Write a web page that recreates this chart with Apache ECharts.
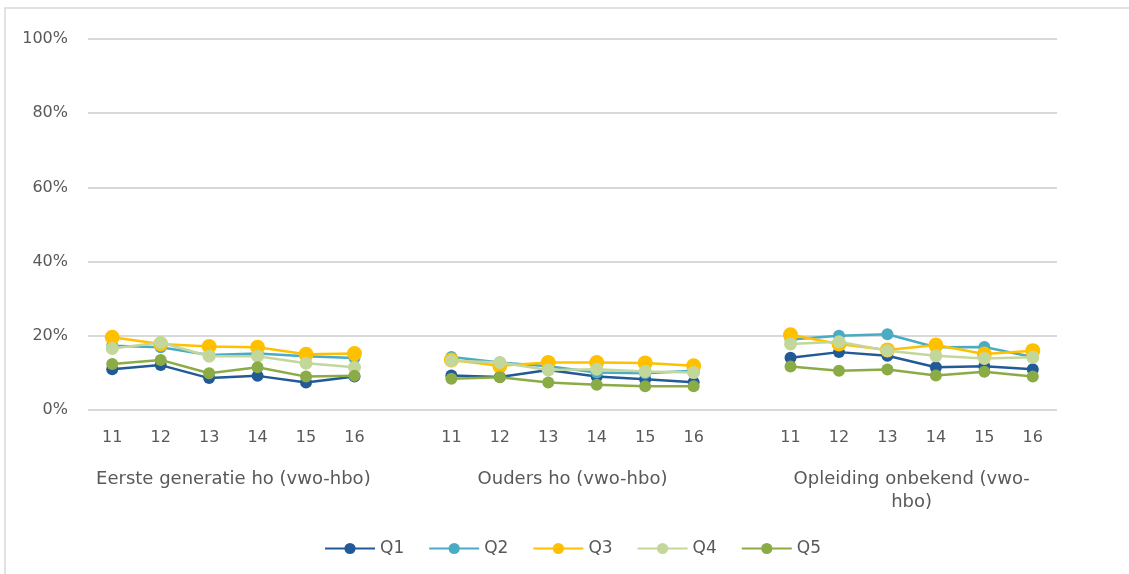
<!DOCTYPE html>
<html>
<head>
<meta charset="utf-8">
<script src="https://cdn.jsdelivr.net/npm/echarts@6/dist/echarts.min.js"></script>
<style>
  html, body { margin: 0; padding: 0; background: #ffffff; }
  #chart { width: 1129px; height: 574px; }
</style>
</head>
<body>
<div id="chart"></div>
<script>
// Cohort years shown in each group; an empty slot separates the groups.
const years = ['11', '12', '13', '14', '15', '16'];
const groups = ['Eerste generatie ho (vwo-hbo)', 'Ouders ho (vwo-hbo)', 'Opleiding onbekend (vwo-\nhbo)'];
const yTicks = [0, 20, 40, 60, 80, 100];

// Percentages per quintile, one array per group (years 11..16).
const q1 = [[11.0, 12.1, 8.6, 9.2, 7.4, 9.0], [9.3, 8.9, 10.8, 9.0, 8.3, 7.5], [14.1, 15.6, 14.6, 11.5, 11.8, 11.0]];
const q2 = [[17.3, 16.9, 14.8, 15.2, 14.5, 14.0], [14.3, 12.8, 11.8, 10.1, 9.9, 10.6], [19.0, 20.0, 20.4, 16.9, 17.0, 14.3]];
const q3 = [[19.6, 17.8, 17.1, 16.9, 15.0, 15.2], [13.5, 11.9, 12.8, 12.8, 12.7, 11.9], [20.3, 17.8, 16.2, 17.5, 15.1, 16.0]];
const q4 = [[16.6, 18.2, 14.5, 14.5, 12.6, 11.5], [13.3, 12.8, 10.8, 11.0, 10.4, 10.1], [17.8, 18.4, 16.0, 14.6, 13.9, 14.2]];
const q5 = [[12.4, 13.5, 9.9, 11.5, 9.0, 9.2], [8.4, 8.8, 7.4, 6.8, 6.4, 6.4], [11.7, 10.6, 10.9, 9.3, 10.3, 9.0]];

const seriesNames = ['Q1', 'Q2', 'Q3', 'Q4', 'Q5'];
const seriesData = [q1, q2, q3, q4, q5];
const colors = ['#215a96', '#4aabc5', '#ffc000', '#c4d79b', '#8aab45'];
const symbolSizes = [12, 12, 15, 13, 12];

// Flatten groups into one category axis with a blank slot between groups.
const categories = [];
groups.forEach((g, i) => {
  if (i > 0) categories.push('');
  years.forEach(y => categories.push(y));
});
function flatten(parts) {
  const out = [];
  parts.forEach((p, i) => {
    if (i > 0) out.push(null);
    p.forEach(v => out.push(v));
  });
  return out;
}

// Group labels sit under the middle of each block of six years.
const groupCenters = {};
groups.forEach((g, i) => { groupCenters[i * (years.length + 1) + years.length / 2] = g; });

const fontFamily = 'DejaVu Sans';
const textColor = '#595959';

const chart = echarts.init(document.getElementById('chart'), null, { renderer: 'canvas' });
chart.setOption({
  animation: false,
  backgroundColor: '#ffffff',
  color: colors,
  textStyle: { fontFamily: fontFamily },
  graphic: [{
    type: 'rect',
    shape: { x: 5, y: 8, width: 1140, height: 580 },
    style: { fill: 'none', stroke: '#d9d9d9', lineWidth: 1.5 },
    silent: true
  }],
  grid: { left: 88, right: 72, top: 39, bottom: 164, containLabel: false },
  legend: {
    data: seriesNames,
    top: 535,
    left: 319,
    itemWidth: 50,
    itemHeight: 14,
    itemGap: 24,
    textStyle: { fontFamily: fontFamily, fontSize: 17, color: textColor }
  },
  xAxis: [{
    type: 'category',
    data: categories,
    boundaryGap: true,
    axisLine: { show: false },
    axisTick: { show: false },
    axisLabel: { interval: 0, margin: 20, fontSize: 16, color: textColor, fontFamily: fontFamily }
  }, {
    type: 'value',
    min: 0,
    max: categories.length,
    interval: 1,
    position: 'bottom',
    axisLine: { show: false },
    axisTick: { show: false },
    splitLine: { show: false },
    axisLabel: {
      margin: 58,
      fontSize: 18,
      lineHeight: 23,
      color: textColor,
      fontFamily: fontFamily,
      verticalAlign: 'top',
      formatter: v => groupCenters[v] || ''
    }
  }],
  yAxis: {
    type: 'value',
    min: yTicks[0],
    max: yTicks[yTicks.length - 1],
    interval: yTicks[1] - yTicks[0],
    axisLine: { show: false },
    axisTick: { show: false },
    splitLine: { lineStyle: { color: '#d9d9d9', width: 2 } },
    axisLabel: { margin: 20, fontSize: 16, color: textColor, fontFamily: fontFamily, formatter: '{value}%' }
  },
  series: seriesNames.map((name, i) => ({
    name: name,
    type: 'line',
    xAxisIndex: 0,
    data: flatten(seriesData[i]),
    connectNulls: false,
    symbol: 'circle',
    symbolSize: symbolSizes[i],
    lineStyle: { width: 2.5, color: colors[i] },
    itemStyle: { color: colors[i] },
    z: 2 + i
  }))
});
</script>
</body>
</html>
